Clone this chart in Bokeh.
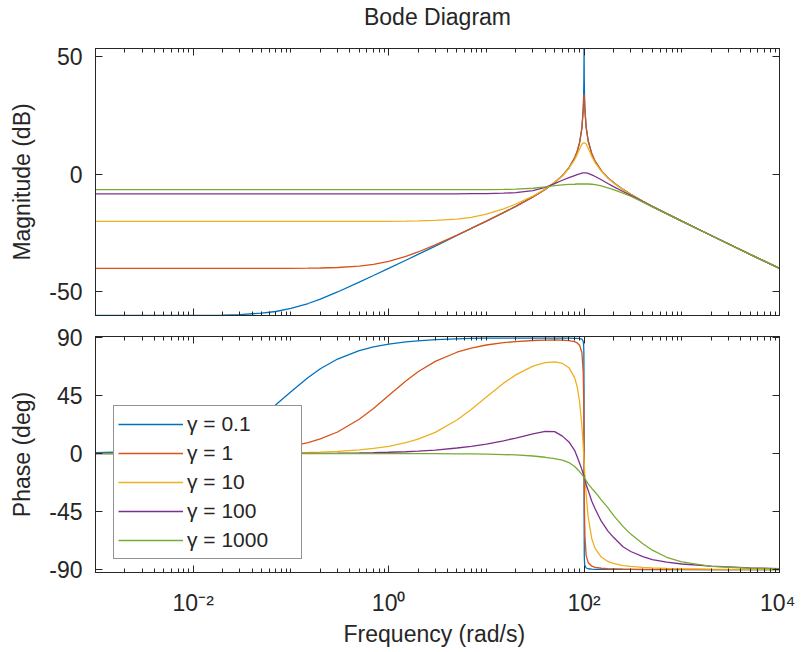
from bokeh.plotting import figure
from bokeh.models import (FixedTicker, LinearAxis, LogAxis, CustomJSTickFormatter,
                          Range1d)
from bokeh.layouts import column
from bokeh.embed import file_html
from bokeh.resources import INLINE

# ---------------- data ----------------
freq = [0.001, 0.002, 0.005, 0.01, 0.02, 0.03, 0.05, 0.07, 0.1, 0.15, 0.2, 0.3, 0.5, 0.7,
        1, 1.5, 2, 3, 5, 7,
        10, 15, 20, 30, 40, 50, 60, 70, 80, 85, 90, 95, 98, 99, 99.5, 99.9,
        100, 100.1, 100.5, 101, 102, 105, 110, 120, 130, 150, 175, 200, 250, 300, 400, 500, 700,
        1000, 2000, 5000, 10000]

series_labels = ["γ = 0.1", "γ = 1", "γ = 10", "γ = 100", "γ = 1000"]

mag_g0_1 = [-60.0, -60.0, -60.0, -60.0, -59.8, -59.6, -59.0, -58.3, -57.0, -54.9, -53.0, -50.0, -45.8, -43.0,
            -40.0, -36.5, -34.0, -30.5, -26.0, -23.0,
            -19.9, -16.3, -13.6, -9.6, -6.4, -3.5, -0.5, 2.7, 7.0, 9.7, 13.5, 19.8, 27.9, 33.9, 39.8, 51.0,
            62.0, 51.0, 39.9, 34.0, 28.0, 20.2, 14.4, 8.7, 5.5, 1.6, -1.4, -3.5, -6.4, -8.5, -11.5, -13.6, -16.7,
            -19.9, -26.0, -34.0, -40.0]
mag_g1 = [-40.0, -40.0, -40.0, -40.0, -40.0, -40.0, -40.0, -40.0, -40.0, -39.9, -39.8, -39.6, -39.0, -38.3,
          -37.0, -34.9, -33.0, -30.0, -25.8, -23.0,
          -19.9, -16.3, -13.6, -9.6, -6.4, -3.5, -0.5, 2.7, 7.0, 9.7, 13.5, 19.6, 26.9, 30.9, 33.0, 33.9,
          34.0, 33.9, 33.0, 31.0, 27.1, 20.0, 14.3, 8.7, 5.5, 1.6, -1.4, -3.5, -6.4, -8.5, -11.5, -13.6, -16.7,
          -19.9, -26.0, -34.0, -40.0]
mag_g10 = [-20.0, -20.0, -20.0, -20.0, -20.0, -20.0, -20.0, -20.0, -20.0, -20.0, -20.0, -20.0, -20.0, -20.0,
           -20.0, -19.9, -19.8, -19.6, -19.0, -18.3,
           -16.9, -14.7, -12.6, -9.2, -6.2, -3.4, -0.6, 2.5, 6.2, 8.4, 10.8, 12.8, 13.3, 13.4, 13.4, 13.4,
           13.4, 13.4, 13.4, 13.4, 13.3, 12.9, 11.2, 7.6, 4.9, 1.4, -1.5, -3.6, -6.5, -8.6, -11.5, -13.6, -16.7,
           -19.9, -26.0, -34.0, -40.0]
mag_g100 = [-8.3, -8.3, -8.3, -8.3, -8.3, -8.3, -8.3, -8.3, -8.3, -8.3, -8.3, -8.3, -8.3, -8.3,
            -8.3, -8.3, -8.3, -8.3, -8.3, -8.2,
            -8.2, -8.0, -7.8, -6.9, -5.5, -3.9, -2.5, -1.4, -0.5, -0.1, 0.2, 0.5, 0.6, 0.6, 0.6, 0.6,
            0.6, 0.6, 0.6, 0.6, 0.6, 0.6, 0.4, -0.2, -0.9, -2.3, -3.9, -5.2, -7.3, -8.9, -11.6, -13.7, -16.7,
            -19.9, -26.0, -34.0, -40.0]
mag_g1000 = [-6.5, -6.5, -6.5, -6.5, -6.5, -6.5, -6.5, -6.5, -6.5, -6.5, -6.5, -6.5, -6.5, -6.5,
             -6.5, -6.5, -6.5, -6.5, -6.5, -6.5,
             -6.5, -6.4, -6.3, -5.9, -5.3, -4.8, -4.5, -4.3, -4.2, -4.1, -4.1, -4.1, -4.1, -4.1, -4.1, -4.1,
             -4.1, -4.1, -4.1, -4.1, -4.1, -4.1, -4.1, -4.2, -4.4, -4.9, -5.7, -6.5, -8.0, -9.3, -11.8, -13.8, -16.8,
             -19.9, -26.0, -34.0, -40.0]

ph_g0_1 = [0.6, 1.3, 3.2, 6.3, 12.5, 18.4, 29.1, 37.9, 48.0, 59.0, 65.8, 73.3, 79.8, 82.7,
           84.9, 86.6, 87.4, 88.3, 89.0, 89.3,
           89.5, 89.6, 89.6, 89.6, 89.6, 89.6, 89.6, 89.5, 89.4, 89.3, 89.2, 88.8, 87.1, 84.2, 78.6, 44.9,
           0.0, -45.0, -78.7, -84.3, -87.0, -88.8, -89.4, -89.7, -89.8, -89.8, -89.9, -89.9, -89.9, -89.9, -90.0, -90.0, -90.0,
           -90.0, -90.0, -90.0, -90.0]
ph_g1 = [0.1, 0.1, 0.3, 0.6, 1.1, 1.7, 2.9, 4.0, 5.7, 8.5, 11.3, 16.7, 26.6, 35.0,
         45.0, 56.3, 63.4, 71.5, 78.6, 81.8,
         84.2, 86.0, 86.9, 87.7, 88.0, 88.1, 88.0, 87.6, 86.8, 85.8, 84.0, 78.4, 63.1, 44.5, 26.0, 5.1,
         -0.6, -6.3, -27.1, -45.7, -63.8, -79.0, -84.5, -87.4, -88.4, -89.0, -89.4, -89.5, -89.7, -89.8, -89.8, -89.9, -89.9,
         -89.9, -90.0, -90.0, -90.0]
ph_g10 = [0.0, 0.0, 0.0, 0.1, 0.1, 0.2, 0.3, 0.4, 0.6, 0.8, 1.1, 1.7, 2.9, 4.0,
          5.6, 8.4, 11.1, 16.4, 26.0, 34.2,
          43.8, 54.6, 61.0, 67.8, 70.6, 71.1, 69.9, 66.6, 58.9, 51.8, 40.2, 21.2, 5.6, -0.1, -2.8, -5.1,
          -5.7, -6.3, -8.5, -11.4, -16.8, -31.4, -48.9, -66.2, -73.8, -80.3, -83.7, -85.3, -86.9, -87.6, -88.4, -88.7, -89.1,
          -89.4, -89.7, -89.9, -89.9]
ph_g100 = [0.0, 0.0, 0.0, 0.0, 0.0, 0.0, 0.1, 0.1, 0.1, 0.2, 0.2, 0.3, 0.5, 0.7,
           1.0, 1.4, 1.9, 2.7, 4.3, 5.6,
           7.3, 9.9, 12.0, 15.2, 17.2, 17.0, 13.5, 9.0, 2.5, -2.5, -7.5, -12.5, -15.7, -16.8, -17.4, -18.0,
           -18.2, -18.3, -18.8, -19.3, -20.3, -24.0, -28.5, -37.0, -43.0, -52.5, -60.0, -65.0, -72.3, -76.0, -80.0, -82.3, -84.3,
           -85.7, -87.3, -88.7, -89.3]
ph_g1000 = [0.0, 0.0, 0.0, 0.0, 0.0, 0.0, 0.0, 0.0, 0.0, 0.0, 0.0, 0.0, 0.0, 0.0,
            0.0, 0.0, -0.1, -0.1, -0.2, -0.3,
            -0.5, -0.8, -1.1, -1.9, -2.9, -4.0, -5.2, -7.0, -10.0, -12.0, -14.0, -16.2, -17.6, -18.0, -18.2, -18.4,
            -18.5, -18.5, -18.7, -19.0, -19.5, -21.0, -23.5, -27.0, -30.0, -36.0, -42.0, -48.0, -56.5, -62.5, -70.0, -75.0, -80.5,
            -84.0, -87.5, -89.0, -89.5]

mag_ticks = [-50, 0, 50]
mag_tick_labels = ["-50", "0", "50"]
phase_ticks = [-90, -45, 0, 45, 90]
phase_tick_labels = ["-90", "-45", "0", "45", "90"]
freq_ticks = [1e-2, 1e0, 1e2, 1e4]
freq_tick_labels = ["10⁻²", "10⁰", "10²", "10⁴"]
title_text = "Bode Diagram"

# ---------------- styling ----------------
colors = ["#0072BD", "#D95319", "#EDB120", "#7E2F8E", "#77AC30"]
INK = "#262626"
FONT = "Liberation Sans"
FS = "23px"

minor = []
for k in range(-3, 4):
    for m in range(1, 10):
        v = m * 10.0 ** k
        if v <= 1e4 and not (m == 1 and k in (-2, 0, 2)):
            minor.append(v)
x_ticker = FixedTicker(ticks=freq_ticks, minor_ticks=minor)


def style_axis(ax, labels=True):
    ax.axis_line_color = INK
    ax.axis_line_width = 1
    ax.major_tick_line_color = INK
    ax.minor_tick_line_color = INK
    ax.major_tick_in = 7
    ax.major_tick_out = 0
    ax.minor_tick_in = 4
    ax.minor_tick_out = 0
    ax.major_label_text_font = FONT
    ax.major_label_text_font_size = FS
    ax.major_label_text_color = INK
    ax.axis_label_text_font = FONT
    ax.axis_label_text_font_size = FS
    ax.axis_label_text_font_style = "normal"
    ax.axis_label_text_color = INK
    if not labels:
        ax.formatter = CustomJSTickFormatter(code="return ''")
        ax.major_label_text_font_size = "1px"
        ax.major_label_standoff = 0
        ax.axis_label_standoff = 0


def make_fig(height, yr, yticks, ylabels, top, bottom):
    p = figure(width=795, height=height, x_axis_type="log",
               x_range=Range1d(1e-3, 1e4), y_range=Range1d(*yr),
               output_backend="svg", toolbar_location=None,
               min_border_left=95, min_border_right=16,
               min_border_top=top, min_border_bottom=bottom)
    p.xgrid.visible = False
    p.ygrid.visible = False
    p.outline_line_color = INK
    p.background_fill_color = "white"
    p.border_fill_color = "white"
    yt = FixedTicker(ticks=yticks, minor_ticks=[])
    left = p.left[0]
    left.ticker = yt
    style_axis(left)
    left.major_label_overrides = dict(zip(yticks, ylabels))
    left.major_label_standoff = 13
    left.axis_label_standoff = 11
    below = p.below[0]
    below.ticker = x_ticker
    r = LinearAxis(ticker=yt)
    style_axis(r, labels=False)
    p.add_layout(r, "right")
    a = LogAxis(ticker=x_ticker)
    style_axis(a, labels=False)
    p.add_layout(a, "above")
    return p, a


# top panel: frame 47..315 ; bottom panel: frame 336..572
p1, top_axis = make_fig(325, (-60, 53.5), mag_ticks, mag_tick_labels, 47, 10)
p1.left[0].axis_label = "Magnitude (dB)"
style_axis(p1.below[0], labels=False)
top_axis.axis_label = title_text          # chart title, centred over the frame
top_axis.axis_label_standoff = 19

p2, _ = make_fig(325, (-92.3, 90.8), phase_ticks, phase_tick_labels, 11, 78)
p2.left[0].axis_label = "Phase (deg)"
xb = p2.below[0]
style_axis(xb)
xb.major_label_overrides = dict(zip(freq_ticks, freq_tick_labels))
xb.major_label_standoff = 17
xb.axis_label = "Frequency  (rad/s)"
xb.axis_label_standoff = 2

mags = [mag_g0_1, mag_g1, mag_g10, mag_g100, mag_g1000]
phases = [ph_g0_1, ph_g1, ph_g10, ph_g100, ph_g1000]
for lab, col, m, ph in zip(series_labels, colors, mags, phases):
    assert len(m) == len(freq) and len(ph) == len(freq)
    p1.line(freq, m, line_color=col, line_width=1.3)
    p2.line(freq, ph, line_color=col, line_width=1.3, legend_label=lab)

lg = p2.legend[0]
lg.location = (18, 13)
lg.border_line_color = INK
lg.border_line_width = 1
lg.background_fill_color = "white"
lg.background_fill_alpha = 1
lg.label_text_font = FONT
lg.label_text_font_size = "21px"
lg.label_text_color = INK
lg.glyph_width = 65
lg.glyph_height = 28
lg.label_height = 28
lg.label_width = 110
lg.label_standoff = 4
lg.spacing = 1
lg.padding = 4
lg.margin = 0

layout = column(p1, p2)
open("out.html", "w").write(file_html(layout, INLINE))
